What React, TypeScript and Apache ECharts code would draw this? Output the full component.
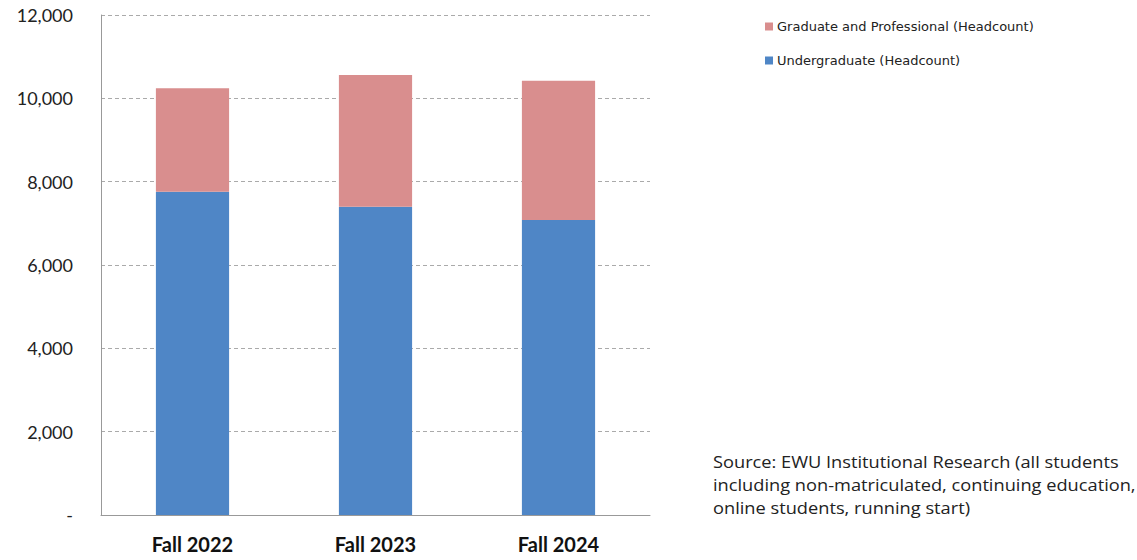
import React, { useEffect, useRef } from "react";
import * as echarts from "echarts";

const categories = ["Fall 2022", "Fall 2023", "Fall 2024"];
const undergraduate = [7760, 7400, 7080];
const graduate = [2480, 3160, 3345];
const yTicks = [0, 2000, 4000, 6000, 8000, 10000, 12000];
const sourceLines = [
  "Source: EWU Institutional Research (all students",
  "including non-matriculated, continuing education,",
  "online students, running start)",
];

export default function App() {
  const ref = useRef<HTMLDivElement>(null);
  useEffect(() => {
    if (!ref.current) return;
    const chart = echarts.init(ref.current, undefined, { renderer: "svg" });
    chart.setOption({
      animation: false,
      textStyle: { fontFamily: "Lato" },
      grid: { left: 101, top: 15, right: 487, bottom: 45, containLabel: false },
      legend: {
        orient: "vertical",
        left: 760,
        top: 15,
        itemWidth: 8,
        itemHeight: 8,
        itemGap: 21,
        icon: "rect",
        data: ["Graduate and Professional (Headcount)", "Undergraduate (Headcount)"],
        textStyle: { fontSize: 13, color: "#222", fontFamily: "DejaVu Sans", padding: [0, 0, 0, -1] },
      },
      xAxis: {
        type: "category",
        data: categories,
        axisLine: { lineStyle: { color: "#999", width: 1 } },
        axisTick: { show: false },
        axisLabel: { fontSize: 20, fontWeight: "bold", color: "#111", margin: 19 },
      },
      yAxis: {
        type: "value",
        min: 0,
        max: 12000,
        interval: 2000,
        axisLine: { show: true, lineStyle: { color: "#999", width: 1 } },
        axisTick: { show: false },
        splitLine: { lineStyle: { color: "#aaa", type: [4, 3], width: 1 } },
        axisLabel: {
          fontSize: 18,
          color: "#222",
          margin: 28,
          customValues: yTicks,
          formatter: (v: number) => (v === 0 ? "-" : v.toLocaleString("en-US")),
        },
      },
      series: [
        {
          name: "Undergraduate (Headcount)",
          type: "bar",
          stack: "total",
          data: undergraduate,
          barWidth: "40%",
          itemStyle: { color: "#4F86C6" },
        },
        {
          name: "Graduate and Professional (Headcount)",
          type: "bar",
          stack: "total",
          data: graduate,
          barWidth: "40%",
          itemStyle: { color: "#D98E8E" },
        },
      ],
      graphic: [
        {
          type: "text",
          x: 713,
          y: 450,
          scaleX: 1.14,
          style: {
            text: sourceLines.join("\n"),
            font: "16px 'Open Sans'",
            lineHeight: 23,
            fill: "#222",
          },
        },
      ],
    });
    return () => chart.dispose();
  }, []);
  return (
    <div
      ref={ref}
      style={{ position: "fixed", left: 0, top: 0, width: 1137, height: 560, background: "#fff" }}
    />
  );
}
